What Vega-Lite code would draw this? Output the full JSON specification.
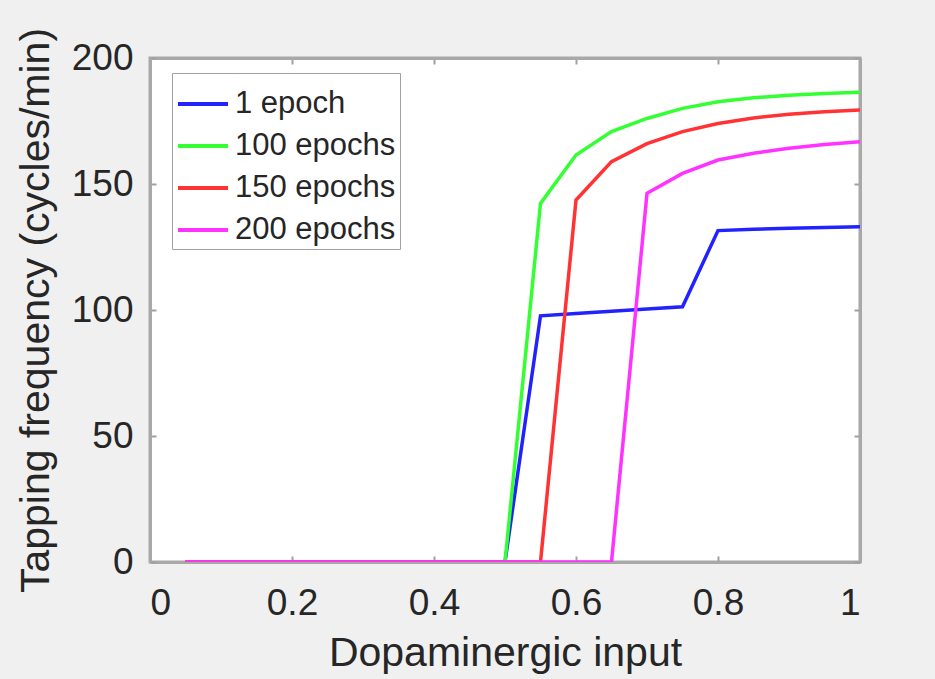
{
  "$schema": "https://vega.github.io/schema/vega-lite/v6.json",
  "width": 710,
  "height": 504,
  "autosize": "none",
  "padding": {"left": 150, "top": 58, "right": 75, "bottom": 117},
  "background": "#f0f0f0",
  "config": {
    "view": {"fill": "white", "stroke": "#a8a8a8", "strokeWidth": 3},
    "font": "Liberation Sans",
    "axis": {
      "grid": false,
      "domainColor": "#a8a8a8",
      "domainWidth": 3,
      "tickColor": "#a0a0a0",
      "tickWidth": 2,
      "tickSize": -6,
      "labelFont": "Liberation Sans",
      "labelFontSize": 37,
      "labelColor": "#262626",
      "titleFont": "Liberation Sans",
      "titleFontSize": 41,
      "titleFontWeight": "normal",
      "titleColor": "#262626"
    }
  },
  "data": {
    "values": [
      {"x": 0.05, "y": 0, "s": "1 epoch"},
      {"x": 0.1, "y": 0, "s": "1 epoch"},
      {"x": 0.15, "y": 0, "s": "1 epoch"},
      {"x": 0.2, "y": 0, "s": "1 epoch"},
      {"x": 0.25, "y": 0, "s": "1 epoch"},
      {"x": 0.3, "y": 0, "s": "1 epoch"},
      {"x": 0.35, "y": 0, "s": "1 epoch"},
      {"x": 0.4, "y": 0, "s": "1 epoch"},
      {"x": 0.45, "y": 0, "s": "1 epoch"},
      {"x": 0.5, "y": 0, "s": "1 epoch"},
      {"x": 0.55, "y": 97.7, "s": "1 epoch"},
      {"x": 0.6, "y": 98.6, "s": "1 epoch"},
      {"x": 0.65, "y": 99.5, "s": "1 epoch"},
      {"x": 0.7, "y": 100.4, "s": "1 epoch"},
      {"x": 0.75, "y": 101.3, "s": "1 epoch"},
      {"x": 0.8, "y": 131.5, "s": "1 epoch"},
      {"x": 0.85, "y": 132, "s": "1 epoch"},
      {"x": 0.9, "y": 132.4, "s": "1 epoch"},
      {"x": 0.95, "y": 132.7, "s": "1 epoch"},
      {"x": 1.0, "y": 133, "s": "1 epoch"},
      {"x": 0.05, "y": 0, "s": "100 epochs"},
      {"x": 0.1, "y": 0, "s": "100 epochs"},
      {"x": 0.15, "y": 0, "s": "100 epochs"},
      {"x": 0.2, "y": 0, "s": "100 epochs"},
      {"x": 0.25, "y": 0, "s": "100 epochs"},
      {"x": 0.3, "y": 0, "s": "100 epochs"},
      {"x": 0.35, "y": 0, "s": "100 epochs"},
      {"x": 0.4, "y": 0, "s": "100 epochs"},
      {"x": 0.45, "y": 0, "s": "100 epochs"},
      {"x": 0.5, "y": 0, "s": "100 epochs"},
      {"x": 0.55, "y": 142.3, "s": "100 epochs"},
      {"x": 0.6, "y": 161.5, "s": "100 epochs"},
      {"x": 0.65, "y": 170.8, "s": "100 epochs"},
      {"x": 0.7, "y": 176, "s": "100 epochs"},
      {"x": 0.75, "y": 180, "s": "100 epochs"},
      {"x": 0.8, "y": 182.6, "s": "100 epochs"},
      {"x": 0.85, "y": 184.2, "s": "100 epochs"},
      {"x": 0.9, "y": 185.2, "s": "100 epochs"},
      {"x": 0.95, "y": 185.9, "s": "100 epochs"},
      {"x": 1.0, "y": 186.4, "s": "100 epochs"},
      {"x": 0.05, "y": 0, "s": "150 epochs"},
      {"x": 0.1, "y": 0, "s": "150 epochs"},
      {"x": 0.15, "y": 0, "s": "150 epochs"},
      {"x": 0.2, "y": 0, "s": "150 epochs"},
      {"x": 0.25, "y": 0, "s": "150 epochs"},
      {"x": 0.3, "y": 0, "s": "150 epochs"},
      {"x": 0.35, "y": 0, "s": "150 epochs"},
      {"x": 0.4, "y": 0, "s": "150 epochs"},
      {"x": 0.45, "y": 0, "s": "150 epochs"},
      {"x": 0.5, "y": 0, "s": "150 epochs"},
      {"x": 0.55, "y": 0, "s": "150 epochs"},
      {"x": 0.6, "y": 143.6, "s": "150 epochs"},
      {"x": 0.65, "y": 158.9, "s": "150 epochs"},
      {"x": 0.7, "y": 166, "s": "150 epochs"},
      {"x": 0.75, "y": 170.8, "s": "150 epochs"},
      {"x": 0.8, "y": 174, "s": "150 epochs"},
      {"x": 0.85, "y": 176.2, "s": "150 epochs"},
      {"x": 0.9, "y": 177.7, "s": "150 epochs"},
      {"x": 0.95, "y": 178.7, "s": "150 epochs"},
      {"x": 1.0, "y": 179.4, "s": "150 epochs"},
      {"x": 0.05, "y": 0, "s": "200 epochs"},
      {"x": 0.1, "y": 0, "s": "200 epochs"},
      {"x": 0.15, "y": 0, "s": "200 epochs"},
      {"x": 0.2, "y": 0, "s": "200 epochs"},
      {"x": 0.25, "y": 0, "s": "200 epochs"},
      {"x": 0.3, "y": 0, "s": "200 epochs"},
      {"x": 0.35, "y": 0, "s": "200 epochs"},
      {"x": 0.4, "y": 0, "s": "200 epochs"},
      {"x": 0.45, "y": 0, "s": "200 epochs"},
      {"x": 0.5, "y": 0, "s": "200 epochs"},
      {"x": 0.55, "y": 0, "s": "200 epochs"},
      {"x": 0.6, "y": 0, "s": "200 epochs"},
      {"x": 0.65, "y": 0, "s": "200 epochs"},
      {"x": 0.7, "y": 146.3, "s": "200 epochs"},
      {"x": 0.75, "y": 154.2, "s": "200 epochs"},
      {"x": 0.8, "y": 159.5, "s": "200 epochs"},
      {"x": 0.85, "y": 162.2, "s": "200 epochs"},
      {"x": 0.9, "y": 164.2, "s": "200 epochs"},
      {"x": 0.95, "y": 165.7, "s": "200 epochs"},
      {"x": 1.0, "y": 166.8, "s": "200 epochs"}
    ]
  },
  "layer": [
    {
      "mark": {"type": "line", "opacity": 0},
      "encoding": {
        "x": {
          "field": "x",
          "type": "quantitative",
          "scale": {"domain": [0, 1], "nice": false},
          "axis": {"orient": "top", "values": [0, 0.2, 0.4, 0.6, 0.8, 1], "labels": false, "title": null}
        },
        "y": {
          "field": "y",
          "type": "quantitative",
          "scale": {"domain": [0, 200], "nice": false},
          "axis": {"orient": "right", "values": [0, 50, 100, 150, 200], "labels": false, "title": null}
        },
        "detail": {"field": "s"}
      }
    },
    {
      "mark": {"type": "line", "strokeWidth": 3.5, "clip": true},
      "encoding": {
        "x": {
          "field": "x",
          "type": "quantitative",
          "scale": {"domain": [0, 1], "nice": false},
          "axis": {"orient": "bottom", "values": [0, 0.2, 0.4, 0.6, 0.8, 1], "labelPadding": 29, "title": "Dopaminergic input", "titlePadding": 12, "format": "~g"}
        },
        "y": {
          "field": "y",
          "type": "quantitative",
          "scale": {"domain": [0, 200], "nice": false},
          "axis": {"orient": "left", "values": [0, 50, 100, 150, 200], "labelPadding": 23, "title": "Tapping frequency (cycles/min)", "titlePadding": 14}
        },
        "color": {
          "field": "s",
          "type": "nominal",
          "sort": ["1 epoch", "100 epochs", "150 epochs", "200 epochs"],
          "scale": {"domain": ["1 epoch", "100 epochs", "150 epochs", "200 epochs"], "range": ["#2222ff", "#33ff33", "#ff3333", "#ff33ff"]},
          "legend": {
            "title": null,
            "orient": "none",
            "legendX": 22,
            "legendY": 15,
            "symbolType": "stroke",
            "symbolSize": 2500,
            "symbolStrokeWidth": 4,
            "labelFontSize": 31,
            "labelLimit": 400,
            "labelFont": "Liberation Sans",
            "labelColor": "#262626",
            "labelOffset": 5,
            "rowPadding": -3.5,
            "padding": 4,
            "fillColor": "white",
            "strokeColor": "#a0a0a0"
          }
        }
      }
    }
  ],
  "resolve": {"axis": {"x": "independent", "y": "independent"}}
}
